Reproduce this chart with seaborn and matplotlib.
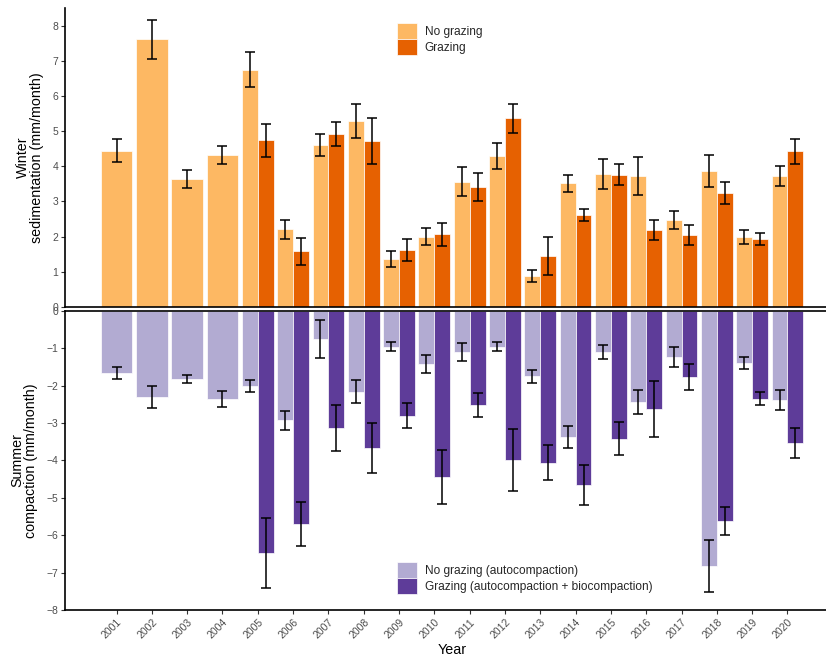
import matplotlib
matplotlib.use("Agg")
import matplotlib.pyplot as plt
from matplotlib.patches import Patch
import numpy as np
import pandas as pd
import seaborn as sns

# ---- data -------------------------------------------------------------
years = [str(y) for y in range(2001, 2021)]

# Winter sedimentation (mm/month), mean and standard error
sed_nograze = [4.44, 7.62, 3.64, 4.32, 6.75, 2.20, 4.61, 5.30, 1.36, 2.00,
               3.56, 4.30, 0.87, 3.51, 3.78, 3.73, 2.47, 3.86, 1.99, 3.73]
sed_nograze_se = [0.33, 0.55, 0.26, 0.26, 0.50, 0.27, 0.31, 0.48, 0.22, 0.23,
                  0.42, 0.37, 0.17, 0.23, 0.43, 0.54, 0.25, 0.46, 0.20, 0.28]
sed_graze = [None, None, None, None, 4.74, 1.58, 4.92, 4.72, 1.62, 2.06,
             3.41, 5.37, 1.45, 2.61, 3.76, 2.18, 2.04, 3.23, 1.93, 4.43]
sed_graze_se = [None, None, None, None, 0.47, 0.39, 0.35, 0.66, 0.31, 0.33,
                0.40, 0.41, 0.54, 0.18, 0.30, 0.28, 0.29, 0.31, 0.16, 0.36]

# Summer compaction (mm/month), mean and standard error
comp_nograze = [-1.66, -2.31, -1.82, -2.36, -2.01, -2.93, -0.76, -2.16, -0.96, -1.42,
                -1.10, -0.96, -1.75, -3.37, -1.10, -2.44, -1.24, -6.82, -1.40, -2.38]
comp_nograze_se = [0.16, 0.30, 0.11, 0.21, 0.16, 0.26, 0.51, 0.32, 0.13, 0.24,
                   0.25, 0.13, 0.17, 0.29, 0.18, 0.31, 0.26, 0.69, 0.17, 0.27]
comp_graze = [None, None, None, None, -6.48, -5.70, -3.13, -3.66, -2.81, -4.44,
              -2.51, -3.98, -4.06, -4.66, -3.42, -2.62, -1.77, -5.63, -2.35, -3.54]
comp_graze_se = [None, None, None, None, 0.93, 0.60, 0.61, 0.67, 0.33, 0.72,
                 0.32, 0.83, 0.46, 0.54, 0.45, 0.75, 0.34, 0.37, 0.17, 0.40]

sed_labels = ["No grazing", "Grazing"]
comp_labels = ["No grazing (autocompaction)",
               "Grazing (autocompaction + biocompaction)"]
sed_colors = ["#FDB863", "#E66101"]
comp_colors = ["#B2ABD2", "#5E3C99"]


def long_table(labels, nog, nog_se, gra, gra_se):
    rows = []
    for i, yr in enumerate(years):
        paired = gra[i] is not None
        rows.append(dict(year=yr, treatment=labels[0], value=nog[i],
                         se=nog_se[i], paired=paired))
        if paired:
            rows.append(dict(year=yr, treatment=labels[1], value=gra[i],
                             se=gra_se[i], paired=True))
    return pd.DataFrame(rows)


sed_df = long_table(sed_labels, sed_nograze, sed_nograze_se, sed_graze, sed_graze_se)
comp_df = long_table(comp_labels, comp_nograze, comp_nograze_se, comp_graze, comp_graze_se)

# ---- style ------------------------------------------------------------
sns.set_theme(style="ticks")
plt.rcParams["font.family"] = ["Liberation Sans", "DejaVu Sans"]

W, H = 826, 659
fig = plt.figure(figsize=(W / 100, H / 100), dpi=100)
left_px, right_px = 65, 839
ax_top = fig.add_axes([left_px / W, 1 - 306.7 / H, (right_px - left_px) / W, (306.7 - 8) / H])
ax_bot = fig.add_axes([left_px / W, 1 - 610 / H, (right_px - left_px) / W, (610 - 310.7) / H])

BAR_W = 0.9


def draw_panel(ax, df, labels, colors):
    palette = dict(zip(labels, colors))
    single = df[~df["paired"]]
    paired = df[df["paired"]]
    sns.barplot(data=single, x="year", y="value", order=years, color=colors[0],
                width=BAR_W, errorbar=None, saturation=1, ax=ax,
                edgecolor="white", linewidth=0.5)
    sns.barplot(data=paired, x="year", y="value", hue="treatment", order=years,
                hue_order=labels, palette=palette, width=BAR_W, dodge=True,
                errorbar=None, saturation=1, ax=ax, legend=False,
                edgecolor="white", linewidth=0.5)
    # error bars at the bar centres
    for _, r in df.iterrows():
        idx = years.index(r["year"])
        if r["paired"]:
            off = -BAR_W / 4 if r["treatment"] == labels[0] else BAR_W / 4
        else:
            off = 0.0
        ax.errorbar(idx + off, r["value"], yerr=r["se"], fmt="none",
                    ecolor="black", elinewidth=1.1, capsize=3.8,
                    capthick=1.1, zorder=5)
    ax.set_xlim(-1.46, len(years) - 1 + 1.46)
    handles = [Patch(facecolor=c, edgecolor="white", linewidth=0.5) for c in colors]
    return handles


h_top = draw_panel(ax_top, sed_df, sed_labels, sed_colors)
h_bot = draw_panel(ax_bot, comp_df, comp_labels, comp_colors)

for ax in (ax_top, ax_bot):
    ax.set_facecolor("white")
    for s in ax.spines.values():
        s.set_linewidth(1.2)
        s.set_color("black")
    ax.spines["right"].set_visible(False)
    ax.tick_params(axis="both", direction="out", length=3, width=0.8,
                   color="#333333", labelcolor="#4D4D4D", labelsize=7.5, pad=2)

ax_top.spines["top"].set_visible(False)
ax_top.set_ylim(0, 8.51)
ax_top.set_yticks(range(0, 9))
ax_top.tick_params(axis="x", bottom=False, labelbottom=False)
ax_top.set_xlabel("")
ax_top.set_ylabel("Winter\nsedimentation (mm/month)", fontsize=10.3,
                  color="black", labelpad=6, linespacing=1.0)

ax_bot.set_ylim(-8, 0)
ax_bot.set_yticks(range(-8, 1))
ax_bot.set_xticks(range(len(years)))
ax_bot.set_xticklabels(years, rotation=45, ha="right", va="top",
                       rotation_mode="anchor")
ax_bot.set_xlabel("Year", fontsize=10.3, color="black", labelpad=2)
ax_bot.set_ylabel("Summer\ncompaction (mm/month)", fontsize=10.3,
                  color="black", labelpad=6, linespacing=1.0)

leg_kw = dict(frameon=False, fontsize=8.6, handlelength=1.68, handleheight=1.68,
              labelspacing=0.0, handletextpad=0.65, borderpad=0, borderaxespad=0,
              loc="upper left", bbox_transform=fig.transFigure)
ax_top.legend(h_top, sed_labels, bbox_to_anchor=(397 / W, 1 - 23.3 / H), **leg_kw)
ax_bot.legend(h_bot, comp_labels, bbox_to_anchor=(397 / W, 1 - 561.7 / H), **leg_kw)

fig.savefig("out.png", dpi=100)
